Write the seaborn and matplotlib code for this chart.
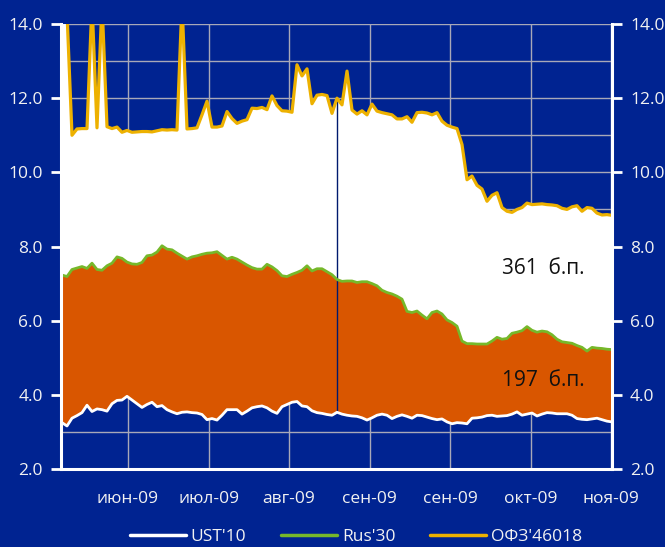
import numpy as np
import pandas as pd
import matplotlib
matplotlib.use("Agg")
import matplotlib.pyplot as plt
import seaborn as sns
from matplotlib.ticker import MultipleLocator, FormatStrFormatter
from matplotlib.lines import Line2D

# ---------------- data ----------------
ofz = [14.6, 14.3, 11.0, 11.17, 11.18, 11.18, 14.6, 11.2, 14.6, 11.23,
       11.18, 11.22, 11.08, 11.13, 11.08, 11.09, 11.1, 11.1, 11.09, 11.12,
       11.15, 11.14, 11.15, 11.14, 14.6, 11.17, 11.18, 11.2, 11.55, 11.92,
       11.22, 11.22, 11.25, 11.64, 11.45, 11.32, 11.38, 11.42, 11.73, 11.72,
       11.75, 11.69, 12.06, 11.8, 11.66, 11.65, 11.62, 12.9, 12.6, 12.79,
       11.85, 12.08, 12.1, 12.07, 11.59, 12.0, 11.82, 12.73, 11.68, 11.57,
       11.66, 11.55, 11.84, 11.65, 11.61, 11.58, 11.55, 11.44, 11.44, 11.5,
       11.35, 11.61, 11.62, 11.6, 11.55, 11.61, 11.38, 11.27, 11.22, 11.18,
       10.75, 9.8, 9.9, 9.65, 9.55, 9.22, 9.38, 9.45, 9.05, 8.95,
       8.92, 9.0, 9.05, 9.17, 9.13, 9.14, 9.15, 9.13, 9.12, 9.1,
       9.03, 9.0, 9.07, 9.1, 8.95, 9.05, 9.03, 8.9, 8.85, 8.86, 8.84]

rus30 = [7.23, 7.19, 7.38, 7.42, 7.46, 7.41, 7.55, 7.38, 7.36, 7.48,
         7.55, 7.72, 7.68, 7.58, 7.53, 7.52, 7.57, 7.75, 7.77, 7.85,
         8.02, 7.93, 7.91, 7.82, 7.74, 7.66, 7.72, 7.75, 7.79, 7.82,
         7.83, 7.86, 7.76, 7.66, 7.71, 7.66, 7.58, 7.5, 7.43, 7.39,
         7.39, 7.52, 7.45, 7.35, 7.21, 7.19, 7.25, 7.3, 7.36, 7.48,
         7.34, 7.4, 7.4, 7.32, 7.24, 7.11, 7.06, 7.07, 7.07, 7.03,
         7.05, 7.05, 7.0, 6.94, 6.82, 6.76, 6.72, 6.66, 6.58, 6.25,
         6.22, 6.26, 6.15, 6.05, 6.22, 6.26, 6.18, 6.02, 5.95, 5.85,
         5.45, 5.38, 5.38, 5.37, 5.37, 5.37, 5.45, 5.55, 5.5, 5.52,
         5.66, 5.69, 5.73, 5.84, 5.74, 5.69, 5.72, 5.7, 5.62, 5.5,
         5.43, 5.41, 5.39, 5.33, 5.28, 5.18, 5.28, 5.26, 5.25, 5.23, 5.22]

ust10 = [3.25, 3.16, 3.37, 3.44, 3.52, 3.72, 3.55, 3.62, 3.6, 3.56,
         3.76, 3.85, 3.86, 3.96, 3.86, 3.76, 3.66, 3.74, 3.8, 3.68,
         3.71, 3.6, 3.54, 3.49, 3.53, 3.54, 3.52, 3.51, 3.47, 3.33,
         3.36, 3.32, 3.45, 3.6, 3.6, 3.6, 3.48, 3.56, 3.65, 3.68,
         3.7, 3.65, 3.56, 3.5, 3.68, 3.74, 3.8, 3.82, 3.7, 3.68,
         3.57, 3.52, 3.5, 3.47, 3.45, 3.53, 3.48, 3.45, 3.43, 3.42,
         3.38, 3.32, 3.38, 3.45, 3.48, 3.45, 3.36, 3.42, 3.46, 3.42,
         3.37, 3.45, 3.44, 3.4, 3.36, 3.33, 3.35, 3.27, 3.22, 3.25,
         3.24, 3.22, 3.37, 3.38, 3.4, 3.44, 3.45, 3.42, 3.43, 3.44,
         3.48, 3.54, 3.45, 3.48, 3.51, 3.43, 3.48, 3.52, 3.51, 3.49,
         3.49, 3.49, 3.45, 3.36, 3.34, 3.33, 3.35, 3.37, 3.33, 3.29, 3.27]

tick_labels = ["июн-09", "июл-09", "авг-09", "сен-09", "сен-09", "окт-09", "ноя-09"]
series_names = ["UST'10", "Rus'30", "ОФЗ'46018"]
spread_labels = ["361  б.п.", "197  б.п."]
marker_day = 55   # day with the thin vertical marker line

# ---------------- styling ----------------
BG = "#002391"
ORANGE = "#D95600"
GREEN = "#76B82A"
GOLD = "#EDB100"
WHITE = "#FFFFFF"
TXT = "#F2F2F2"
GRID = "#A8A8B8"

sns.set_theme(style="white")
plt.rcParams["font.family"] = ["Open Sans", "DejaVu Sans"]

n = len(ofz)
days = np.arange(n)
df = pd.DataFrame({"day": days, "ust": ust10, "rus": rus30, "ofz": ofz})

fig = plt.figure(figsize=(6.65, 5.47), dpi=100, facecolor=BG)
ax = fig.add_axes([61 / 665, 1 - 469 / 547, 551 / 665, 445 / 547])
ax.set_facecolor(BG)
ax.set_axisbelow(True)

# fills
ax.fill_between(df["day"], df["rus"], df["ofz"], color=WHITE, lw=0, zorder=2)
ax.fill_between(df["day"], df["ust"], df["rus"], color=ORANGE, lw=0, zorder=2)

# lines
sns.lineplot(data=df, x="day", y="ofz", color=GOLD, lw=2.3, ax=ax, zorder=4)
sns.lineplot(data=df, x="day", y="rus", color=GREEN, lw=2.0, ax=ax, zorder=4)
sns.lineplot(data=df, x="day", y="ust", color=WHITE, lw=2.0, ax=ax, zorder=4)

# thin vertical marker
ax.vlines(df["day"][marker_day], df["ust"][marker_day], df["ofz"][marker_day],
          color="#001a6e", lw=1.0, zorder=3)

# axes limits and ticks
ax.set_xlim(-0.2, n - 1)
ax.set_ylim(2.0, 14.0)
ax.yaxis.set_major_locator(MultipleLocator(2.0))
ax.yaxis.set_minor_locator(MultipleLocator(1.0))
ax.yaxis.set_major_formatter(FormatStrFormatter("%.1f"))
tick_pos = [13.2 + 16.1 * k for k in range(len(tick_labels))]
ax.set_xticks(tick_pos)
ax.set_xticklabels(tick_labels)

ax.grid(True, which="both", axis="y", color=GRID, lw=1.0, zorder=1)
ax.grid(True, which="major", axis="x", color=GRID, lw=1.0, zorder=1)

ax.yaxis.set_ticks_position("both")
ax.tick_params(axis="y", which="major", direction="out", length=7, width=2,
               color=WHITE, labelcolor=TXT, labelsize=12.5,
               labelleft=True, labelright=True, pad=6)
ax.tick_params(axis="y", which="minor", length=0)
ax.tick_params(axis="x", which="both", length=0, labelcolor=TXT,
               labelsize=12.5, pad=16)

for side in ["left", "right", "bottom"]:
    ax.spines[side].set_visible(True)
    ax.spines[side].set_color(WHITE)
    ax.spines[side].set_linewidth(2.2)
    ax.spines[side].set_zorder(6)
ax.spines["top"].set_visible(False)
ax.set_xlabel("")
ax.set_ylabel("")

# spread annotations
ax.text(104.6, 7.42, spread_labels[0], ha="right", va="center",
        fontsize=15, color="#111111", zorder=7)
ax.text(104.6, 4.40, spread_labels[1], ha="right", va="center",
        fontsize=15, color="#111111", zorder=7)

# legend
handles = [Line2D([0], [0], color=WHITE, lw=2.5),
           Line2D([0], [0], color=GREEN, lw=2.5),
           Line2D([0], [0], color=GOLD, lw=2.5)]
leg = fig.legend(handles, series_names, loc="center", bbox_to_anchor=(356 / 665, 1 - 537 / 547),
                 ncol=3, frameon=False, fontsize=12.5, handlelength=3.2,
                 handletextpad=0.3, columnspacing=2.0, borderaxespad=0)
for t in leg.get_texts():
    t.set_color(TXT)

fig.savefig("out.png", dpi=100, facecolor=BG)
